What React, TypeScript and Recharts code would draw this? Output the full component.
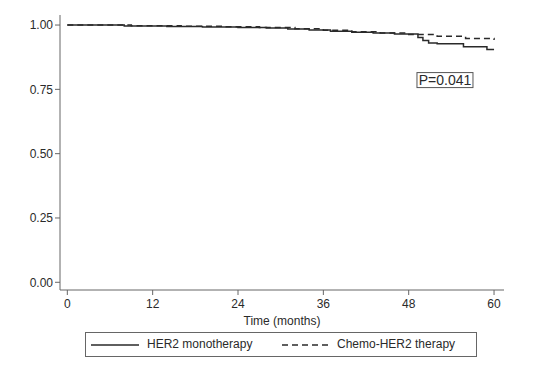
import { LineChart, Line, XAxis, YAxis, ReferenceDot } from 'recharts'

// Kaplan-Meier estimates
const herMonths = [0, 8, 14, 19, 24, 28, 31, 34, 37, 40, 43, 46, 49.3, 50, 50.8, 52, 55.7, 59, 60]
const herSurv = [1, 0.996, 0.994, 0.992, 0.99, 0.988, 0.985, 0.981, 0.976, 0.972, 0.969, 0.965, 0.952, 0.94, 0.93, 0.927, 0.916, 0.905, 0.905]

const chemoMonths = [0, 9, 16, 22, 27, 32, 36, 40, 44, 48, 52, 56, 60]
const chemoSurv = [1, 0.997, 0.995, 0.993, 0.99, 0.986, 0.98, 0.974, 0.969, 0.963, 0.956, 0.948, 0.942]

const xTicks = [0, 12, 24, 36, 48, 60]
const yTicks = [0, 0.25, 0.5, 0.75, 1]

const seriesNames = ['HER2 monotherapy', 'Chemo-HER2 therapy']
const pValueText = 'P=0.041'
const pValuePos = { t: 53.1, s: 0.786 }

const FONT = '"Liberation Sans", Arial, Helvetica, sans-serif'
const INK = '#2a2a2a'
const AXIS = '#666'

const herData = herMonths.map((t, i) => ({ t, s: herSurv[i] }))
const chemoData = chemoMonths.map((t, i) => ({ t, s: chemoSurv[i] }))

function PBox(props: any) {
  const { cx, cy } = props
  const w = 56
  const h = 15
  return (
    <g>
      <rect x={cx - w / 2} y={cy - h / 2} width={w} height={h} fill="#fff" stroke="#555" strokeWidth={1} />
      <text x={cx} y={cy} dy="0.36em" textAnchor="middle" fontSize={14} fill={INK} fontFamily={FONT}>
        {pValueText}
      </text>
    </g>
  )
}

function LegendBox() {
  return (
    <div
      style={{
        position: 'absolute',
        left: 85,
        top: 332,
        width: 390,
        height: 23,
        border: `1px solid ${AXIS}`,
        fontFamily: FONT,
        fontSize: 12,
        color: INK,
      }}
    >
      <svg width={48} height={4} style={{ position: 'absolute', left: 5, top: 10 }}>
        <line x1={0} y1={2} x2={48} y2={2} stroke={INK} strokeWidth={1.5} />
      </svg>
      <span style={{ position: 'absolute', left: 61, top: 4 }}>{seriesNames[0]}</span>
      <svg width={48} height={4} style={{ position: 'absolute', left: 196, top: 10 }}>
        <line x1={0} y1={2} x2={48} y2={2} stroke={INK} strokeWidth={1.5} strokeDasharray="6 4" />
      </svg>
      <span style={{ position: 'absolute', left: 251, top: 4 }}>{seriesNames[1]}</span>
    </div>
  )
}

export default function App() {
  return (
    <div style={{ position: 'absolute', left: 0, top: 0, width: 536, height: 376, background: '#fff' }}>
      <LineChart width={536} height={376} margin={{ top: 15, right: 32, bottom: 46, left: 0 }}>
        <XAxis
          type="number"
          dataKey="t"
          domain={[-1.03, 61.4]}
          allowDataOverflow
          ticks={xTicks}
          tickSize={5}
          tickMargin={4}
          height={40}
          stroke={AXIS}
          tick={{ fill: INK, fontSize: 12, fontFamily: FONT }}
          label={{ value: 'Time (months)', position: 'insideBottom', offset: 5, fill: INK, fontSize: 12, fontFamily: FONT }}
        />
        <YAxis
          type="number"
          dataKey="s"
          domain={[-0.03, 1.039]}
          allowDataOverflow
          ticks={yTicks}
          width={60}
          tickSize={5}
          tickMargin={2}
          stroke={AXIS}
          tickFormatter={(v: number) => v.toFixed(2)}
          tick={{ fill: INK, fontSize: 12, fontFamily: FONT }}
        />
        <Line
          data={herData}
          dataKey="s"
          type="stepAfter"
          stroke={INK}
          strokeWidth={1.5}
          dot={false}
          isAnimationActive={false}
          name={seriesNames[0]}
        />
        <Line
          data={chemoData}
          dataKey="s"
          type="stepAfter"
          stroke={INK}
          strokeWidth={1.5}
          strokeDasharray="6 4"
          dot={false}
          isAnimationActive={false}
          name={seriesNames[1]}
        />
        <ReferenceDot x={pValuePos.t} y={pValuePos.s} shape={PBox} />
      </LineChart>
      <LegendBox />
    </div>
  )
}
